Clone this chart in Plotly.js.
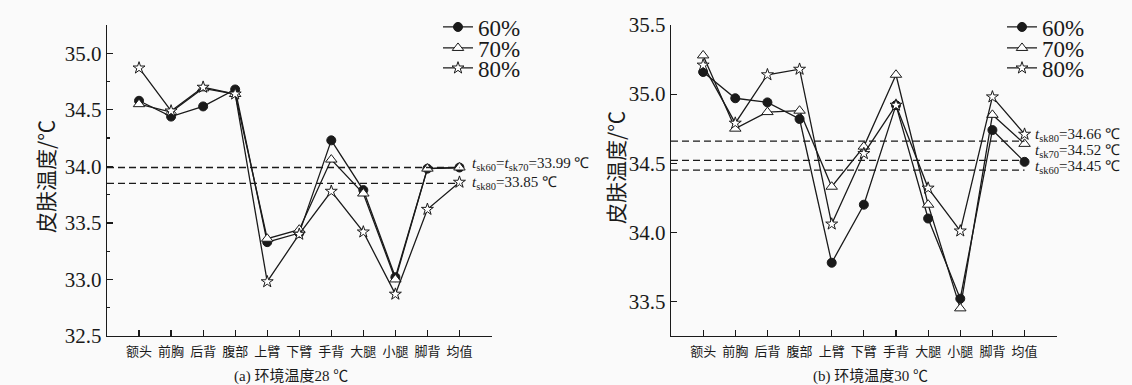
<!DOCTYPE html>
<html>
<head>
<meta charset="utf-8">
<script src="https://cdn.plot.ly/plotly-3.0.1.min.js"></script>
<style>html,body{margin:0;padding:0;background:#fafafa;}#chart{width:1132px;height:385px;}</style>
</head>
<body>
<div id="chart"></div>
<script>
// ---- data ----
const categories = ['额头','前胸','后背','腹部','上臂','下臂','手背','大腿','小腿','脚背','均值'];
const seriesNames = ['60%','70%','80%'];
// (a) ambient 28 ℃
const a60 = [34.58,34.44,34.53,34.68,33.33,33.41,34.23,33.79,33.02,33.98,33.99];
const a70 = [34.55,34.48,34.69,34.64,33.36,33.44,34.06,33.76,33.00,33.98,33.99];
const a80 = [34.87,34.49,34.70,34.64,32.98,33.40,33.78,33.42,32.87,33.62,33.86];
const meanA = [33.99, 33.85];
const meanALabels = ['<i>t</i><sub>sk60</sub>=<i>t</i><sub>sk70</sub>=33.99 ℃', '<i>t</i><sub>sk80</sub>=33.85 ℃'];
// (b) ambient 30 ℃
const b60 = [35.16,34.97,34.94,34.82,33.78,34.20,34.92,34.10,33.52,34.74,34.51];
const b70 = [35.28,34.75,34.87,34.88,34.33,34.62,35.14,34.20,33.45,34.85,34.64];
const b80 = [35.21,34.79,35.14,35.18,34.06,34.57,34.92,34.32,34.01,34.98,34.71];
const meanB = [34.66, 34.52, 34.45];
const meanBLabels = ['<i>t</i><sub>sk80</sub>=34.66 ℃', '<i>t</i><sub>sk70</sub>=34.52 ℃', '<i>t</i><sub>sk60</sub>=34.45 ℃'];
const captions = ['(a) 环境温度28 ℃', '(b) 环境温度30 ℃'];
const yTitle = '皮肤温度/℃';

// ---- styles ----
const W = 1132, H = 385;
const ink = '#1a1a1a';
const serif = "'Liberation Serif', 'Times New Roman', serif";
const cjk = "'Liberation Serif', 'Noto Sans CJK SC', serif";
const markerStyles = [
  {symbol:'circle', size:9, color:ink, line:{color:ink, width:1}},
  {symbol:'triangle-up', size:10, color:'#ffffff', line:{color:ink, width:1}},
  {symbol:'star', size:9, color:'#ffffff', line:{color:ink, width:1}}
];

function mk(y, i, xa, ya, leg) {
  return {
    x: categories, y: y, type:'scatter', mode:'lines+markers',
    name: seriesNames[i], xaxis: xa, yaxis: ya,
    line:{color:ink, width:1.3}, marker: markerStyles[i],
    legend: leg, showlegend: true
  };
}

const traces = [
  mk(a60,0,'x','y','legend'),
  mk(a70,1,'x','y','legend2'),
  mk(a80,2,'x','y','legend3'),
  mk(b60,0,'x2','y2','legend4'),
  mk(b70,1,'x2','y2','legend5'),
  mk(b80,2,'x2','y2','legend6')
];

const yDom = [49/H, 360/H];
function xAxis(dom, anchor){
  return {domain:dom, anchor:anchor, type:'category', range:[-1,11],
    showline:true, linecolor:ink, linewidth:1.3, ticks:'inside', ticklen:6, tickwidth:1.2, tickcolor:ink,
    ticklabelstandoff:3,
    tickfont:{family:cjk, size:13, color:ink}, showgrid:false, zeroline:false, fixedrange:true};
}
function yAxis(range, tick0, anchor, minor){
  const ax = {domain:yDom, anchor:anchor, range:range, tick0:tick0, dtick:0.5, tickformat:'.1f',
    showline:true, linecolor:ink, linewidth:1.3, ticks:'inside', ticklen:6, tickwidth:1.2, tickcolor:ink,
    tickfont:{family:serif, size:21, color:ink}, showgrid:false, zeroline:false};
  if (minor) ax.minor = {ticks:'inside', ticklen:3, tickwidth:1.2, tickcolor:ink, dtick:0.25, tick0:tick0, showgrid:false};
  return ax;
}

const shapes = [];
meanA.forEach(v => shapes.push({type:'line', xref:'x', yref:'y', x0:-1, x1:10, y0:v, y1:v, line:{color:ink, width:1.3, dash:'7px,4px'}}));
meanB.forEach(v => shapes.push({type:'line', xref:'x2', yref:'y2', x0:-1, x1:10, y0:v, y1:v, line:{color:ink, width:1.3, dash:'7px,4px'}}));

const annotations = [];
const aShift = [3, 0];
meanA.forEach((v,i) => annotations.push({xref:'x', yref:'y', x:10, y:v, xanchor:'left', yanchor:'middle', xshift:11, yshift:aShift[i],
  text:meanALabels[i], showarrow:false, font:{family:serif, size:15, color:ink}}));
const bShift = [6, 9, 3];
meanB.forEach((v,i) => annotations.push({xref:'x2', yref:'y2', x:10, y:v, xanchor:'left', yanchor:'middle', xshift:8, yshift:bShift[i],
  text:meanBLabels[i], showarrow:false, font:{family:serif, size:15, color:ink}}));
annotations.push({xref:'paper', yref:'paper', x:291/W, y:1-376/H, xanchor:'center', yanchor:'middle', text:captions[0], showarrow:false, font:{family:cjk, size:15, color:ink}});
annotations.push({xref:'paper', yref:'paper', x:870/W, y:1-376/H, xanchor:'center', yanchor:'middle', text:captions[1], showarrow:false, font:{family:cjk, size:15, color:ink}});
// y-axis titles
annotations.push({xref:'paper', yref:'paper', x:45/W, y:1-177/H, xanchor:'center', yanchor:'middle', textangle:-90, text:yTitle, showarrow:false, font:{family:'Noto Sans CJK SC', size:21, color:ink}});
annotations.push({xref:'paper', yref:'paper', x:615/W, y:1-168/H, xanchor:'center', yanchor:'middle', textangle:-90, text:yTitle, showarrow:false, font:{family:'Noto Sans CJK SC', size:21, color:ink}});

function legendAt(px, py){
  return {x:px/W, y:1-py/H, xanchor:'left', yanchor:'middle', bgcolor:'rgba(0,0,0,0)', borderwidth:0,
    font:{family:serif, size:23, color:ink}, itemwidth:30};
}
const legendRows = [27, 48, 68];

const layout = {
  width:W, height:H, margin:{l:0,r:0,t:0,b:0},
  paper_bgcolor:'#fafafa', plot_bgcolor:'#fafafa',
  xaxis: xAxis([107/W, 491.5/W], 'y'),
  yaxis: yAxis([32.5, 35.25], 32.5, 'x', true),
  xaxis2: xAxis([671/W, 1056.7/W], 'y2'),
  yaxis2: yAxis([33.25, 35.5], 33.5, 'x2', false),
  legend: legendAt(438, legendRows[0]),
  legend2: legendAt(438, legendRows[1]),
  legend3: legendAt(438, legendRows[2]),
  legend4: legendAt(1002, legendRows[0]),
  legend5: legendAt(1002, legendRows[1]),
  legend6: legendAt(1002, legendRows[2]),
  shapes: shapes, annotations: annotations
};

Plotly.newPlot('chart', traces, layout, {staticPlot:true, displayModeBar:false});
</script>
</body>
</html>
